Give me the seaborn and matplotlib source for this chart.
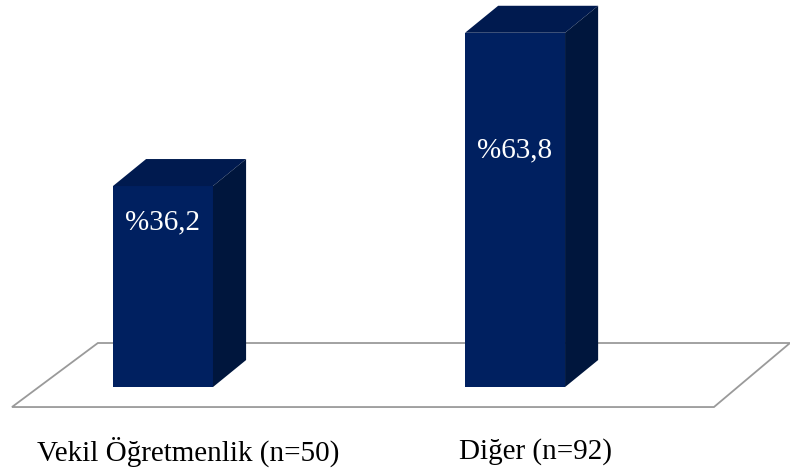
import numpy as np
import pandas as pd
import seaborn as sns
import matplotlib.pyplot as plt
from matplotlib.patches import Polygon

# Veriler
kategoriler = ["Vekil Öğretmenlik (n=50)", "Diğer (n=92)"]
yuzdeler = [36.2, 63.8]
etiketler = ["%36,2", "%63,8"]

df = pd.DataFrame({"kategori": kategoriler, "yuzde": yuzdeler})

on_renk = "#002060"
ust_renk = "#001a4f"
yan_renk = "#00163d"

fig = plt.figure(figsize=(7.9, 4.72), dpi=100)
ax = fig.add_axes([0, 0, 1, 1])

# piksel -> veri olceklemesi (x: 352 px / kategori, y: 5.55 px / birim)
genislik = 0.284
dx, dy = 0.094, 4.86

# zemin
zemin = Polygon([(-0.429, -3.6), (1.565, -3.6), (1.781, 7.93), (-0.185, 7.93)],
                closed=True, facecolor="white", edgecolor="#9a9a9a", lw=1.3, zorder=1)
ax.add_patch(zemin)

sns.barplot(data=df, x="kategori", y="yuzde", color=on_renk, saturation=1,
            width=genislik, ax=ax, zorder=3)

# 3B ust ve yan yuzler
for i, v in enumerate(yuzdeler):
    sol, sag = i - genislik / 2, i + genislik / 2
    ust = Polygon([(sol, v), (sag, v), (sag + dx, v + dy), (sol + dx, v + dy)],
                  closed=True, facecolor=ust_renk, edgecolor="none", zorder=3)
    yan = Polygon([(sag, 0), (sag + dx, dy), (sag + dx, v + dy), (sag, v)],
                  closed=True, facecolor=yan_renk, edgecolor="none", zorder=3)
    ax.add_patch(ust)
    ax.add_patch(yan)

# deger etiketleri
etiket_kayma = [6.5, 21.1]
for i, (v, t) in enumerate(zip(yuzdeler, etiketler)):
    ax.text(i, v - etiket_kayma[i], t, color="white", fontsize=21,
            family="Liberation Serif", ha="center", va="center", zorder=5)

# kategori etiketleri
for i, k in enumerate(kategoriler):
    ax.text(i + [0.071, 0.057][i], -11.7, k, color="black", fontsize=21,
            family="Liberation Serif", ha="center", va="center")

ax.set_xlim(-0.463, 1.781)
ax.set_ylim(-15.3, 69.7)
ax.axis("off")

plt.savefig("out.png", dpi=100)
